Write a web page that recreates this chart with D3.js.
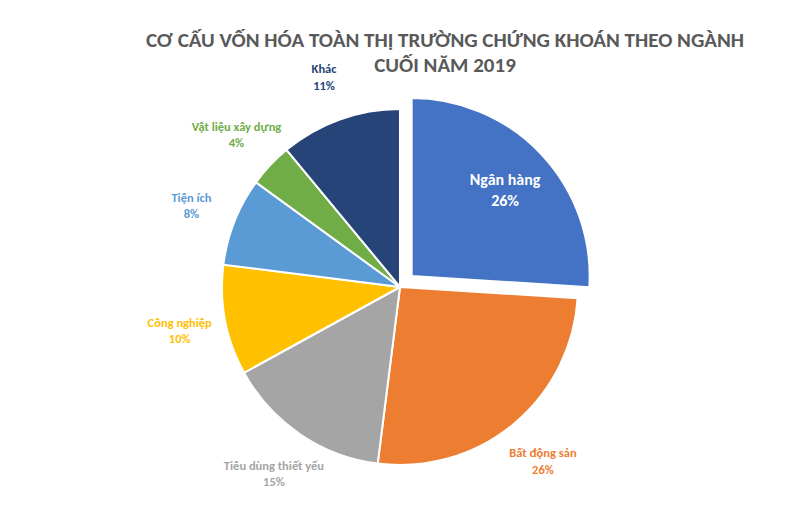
<!DOCTYPE html>
<html><head><meta charset="utf-8">
<script src="https://cdn.jsdelivr.net/npm/d3@7"></script>
<style>body{margin:0;background:#fff}</style>
</head><body><div id="chart"></div>
<script>
var categories=["Ngân hàng","Bất động sản","Tiêu dùng thiết yếu","Công nghiệp","Tiện ích","Vật liệu xây dựng","Khác"];
var values=[26,26,15,10,8,4,11];
var colors=["#4472C4","#ED7D31","#A5A5A5","#FFC000","#5B9BD5","#70AD47","#264478"];
var labelColors=["#ffffff","#ED7D31","#A5A5A5","#FFC000","#5B9BD5","#70AD47","#264478"];
var titleLines=["CƠ CẤU VỐN HÓA TOÀN THỊ TRƯỜNG CHỨNG KHOÁN THEO NGÀNH","CUỐI NĂM 2019"];

var width=800,height=507,R=178,cx=400,cy=287;
var svg=d3.select("#chart").append("svg").attr("width",width).attr("height",height)
    .style("font-family","Calibri, Carlito, 'Liberation Sans', sans-serif");

svg.selectAll(".title").data(titleLines).enter().append("text")
    .attr("x",445).attr("y",function(d,i){return 47+i*25})
    .attr("text-anchor","middle").attr("font-size",21).attr("font-weight","bold")
    .attr("fill","#595959").text(function(d){return d});

var data=categories.map(function(c,i){return {name:c,value:values[i],i:i}});
var pie=d3.pie().sort(null).value(function(d){return d.value});
var arcs=pie(data);
var arc=d3.arc().innerRadius(0).outerRadius(R);
var labelArc=d3.arc().innerRadius(R*1.26).outerRadius(R*1.26);
var innerArc=d3.arc().innerRadius(R*0.72).outerRadius(R*0.72);

var g=svg.append("g").attr("transform","translate("+cx+","+cy+")");

function offset(d){
    if(d.index!==0)return [0,0];
    var a=(d.startAngle+d.endAngle)/2;
    return [16*Math.sin(a),-16*Math.cos(a)];
}

g.selectAll("path").data(arcs).enter().append("path")
    .attr("d",arc)
    .attr("transform",function(d){return "translate("+offset(d)+")"})
    .attr("fill",function(d){return colors[d.index]})
    .attr("stroke","#fff").attr("stroke-width",2);

var t=g.selectAll(".lbl").data(arcs).enter().append("text")
    .attr("transform",function(d){
        var p=d.index===0?innerArc.centroid(d):labelArc.centroid(d);
        var o=offset(d);
        return "translate("+(p[0]+o[0])+","+(p[1]+o[1])+")";
    })
    .attr("text-anchor","middle")
    .attr("font-weight","bold")
    .attr("font-size",function(d){return d.index===0?16:12.5})
    .attr("fill",function(d){return labelColors[d.index]});
t.append("tspan").attr("x",0).attr("dy","-0.2em").text(function(d){return d.data.name});
t.append("tspan").attr("x",0).attr("dy","1.3em").text(function(d){return d.data.value+"%"});
</script>
</body></html>
